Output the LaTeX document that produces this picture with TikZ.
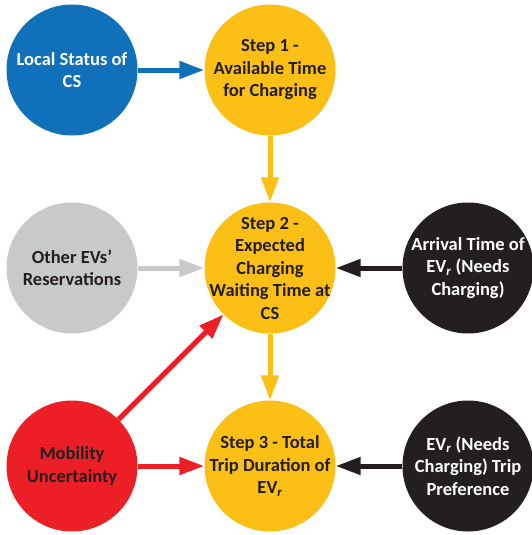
\documentclass[tikz,border=0pt]{standalone}
\usepackage{fontspec}
\setmainfont{Carlito}
\usetikzlibrary{arrows.meta}

\definecolor{csblue}{HTML}{1170BA}
\definecolor{stepyellow}{HTML}{FBBF15}
\definecolor{resgray}{HTML}{C8C9CB}
\definecolor{mobred}{HTML}{ED1F26}
\definecolor{evblack}{HTML}{231F20}

\newcommand{\EVr}{EV\textsubscript{\itshape r}}

\begin{document}
\begin{tikzpicture}[x=1pt,y=-1pt,>={Triangle[length=25pt,width=17pt]},
  ball/.style={circle,minimum size=131pt,inner sep=-25pt,align=center,
    font=\fontsize{18.5}{22.5}\selectfont\bfseries,text=evblack},
  flow/.style={->,line width=5pt}]

\useasboundingbox (0,0) rectangle (532,535);

% The inputs
\node[ball,fill=csblue,text=white] (local) at (72,70) {Local Status of\\CS};
\node[ball,fill=resgray] (other) at (72,268) {Other EVs'\\Reservations};
\node[ball,fill=mobred] (mobility) at (72,466) {Mobility\\Uncertainty};
\node[ball,fill=evblack,text=white] (arrival) at (468,268) {Arrival Time of\\\EVr{} (Needs\\Charging)};
\node[ball,fill=evblack,text=white] (pref) at (468,466) {\EVr{} (Needs\\Charging) Trip\\Preference};

% The steps
\node[ball,fill=stepyellow] (step1) at (270,70) {Step 1 -\\Available Time\\for Charging};
\node[ball,fill=stepyellow] (step2) at (270,268) {Step 2 -\\Expected\\Charging\\Waiting Time at\\CS};
\node[ball,fill=stepyellow] (step3) at (270,466) {Step 3 - Total\\Trip Duration of\\\EVr};

% The arrows
\draw[flow,csblue] (local) -- (step1);
\draw[flow,stepyellow] (step1) -- (step2);
\draw[flow,stepyellow] (step2) -- (step3);
\draw[flow,resgray] (other) -- (step2);
\draw[flow,evblack] (arrival) -- (step2);
\draw[flow,mobred] (mobility) -- (step2);
\draw[flow,mobred] (mobility) -- (step3);
\draw[flow,evblack] (pref) -- (step3);

\end{tikzpicture}
\end{document}
